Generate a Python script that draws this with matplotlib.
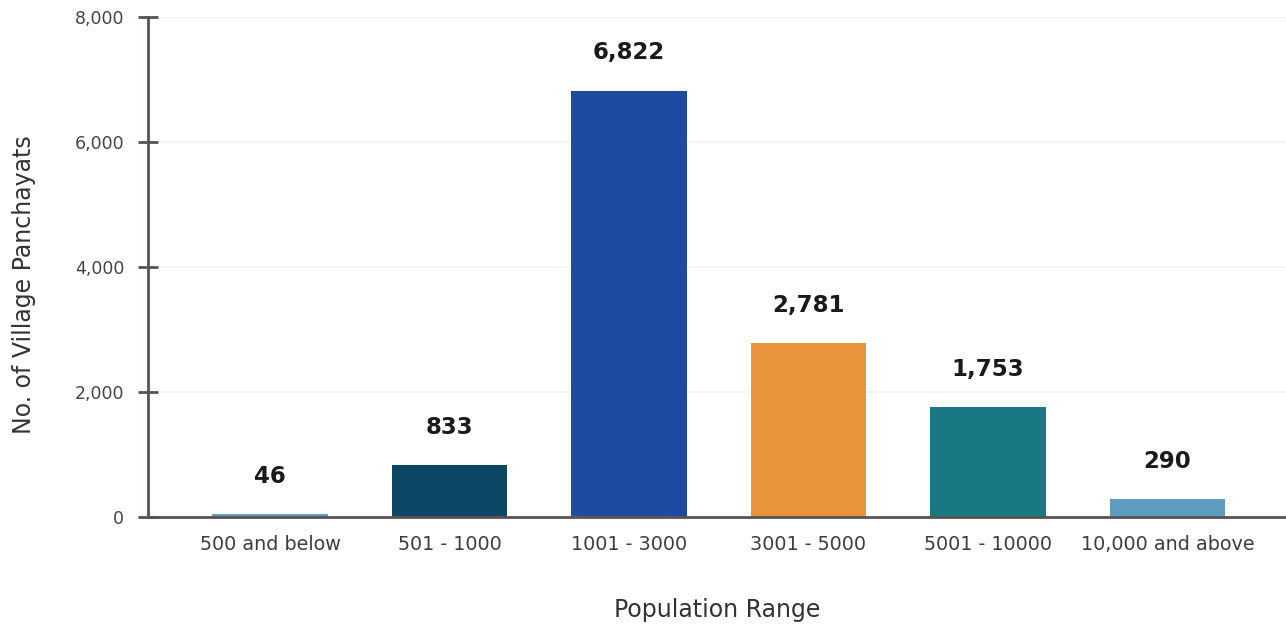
import matplotlib
matplotlib.use("Agg")
import matplotlib.pyplot as plt
from matplotlib.ticker import FuncFormatter

# data
categories = ["500 and below", "501 - 1000", "1001 - 3000", "3001 - 5000", "5001 - 10000", "10,000 and above"]
counts = [46, 833, 6822, 2781, 1753, 290]
bar_colors = ["#5f9fc2", "#0e4766", "#1e4aa1", "#e8943a", "#1a7784", "#5e9cbf"]
yticks = [0, 2000, 4000, 6000, 8000]

axis_col = "#5b5252"

fig = plt.figure(figsize=(12.86, 6.25), dpi=100)
ax = fig.add_axes([0.115, 0.173, 0.885, 0.8])

x = range(len(categories))
ax.bar(x, counts, width=0.645, color=bar_colors, zorder=3)

for i, v in enumerate(counts):
    ax.annotate(f"{v:,}", (i, v), xytext=(0, 27), textcoords="offset points",
                ha="center", va="center", fontsize=16.5, fontweight="bold",
                color="#1a1a1a", family="DejaVu Sans")

ax.set_xlim(-0.68, 5.66)
ax.set_ylim(0, 8000)
ax.set_yticks(yticks)
ax.yaxis.set_major_formatter(FuncFormatter(lambda v, p: f"{int(v):,}"))
ax.set_xticks(list(x))
ax.set_xticklabels(categories)

# faint horizontal grid
for t in yticks[1:]:
    ax.axhline(t, color="#f2f2f2", lw=1.2, zorder=0)

for s in ["top", "right"]:
    ax.spines[s].set_visible(False)
ax.spines["left"].set_color(axis_col)
ax.spines["left"].set_linewidth(2)
ax.spines["bottom"].set_color(axis_col)
ax.spines["bottom"].set_linewidth(2)
ax.spines["bottom"].set_zorder(4)

ax.tick_params(axis="y", direction="inout", length=14, width=2, color=axis_col,
               labelsize=12.5, labelcolor="#444444", pad=10)
ax.tick_params(axis="x", length=0, labelsize=13.8, labelcolor="#3d3d3d", pad=13)
for lab in ax.get_xticklabels() + ax.get_yticklabels():
    lab.set_family("DejaVu Sans")

ax.set_ylabel("No. of Village Panchayats", fontsize=17, color="#333333")
ax.yaxis.set_label_coords(-0.098, 0.464)
ax.set_xlabel("Population Range", fontsize=17, color="#333333", labelpad=32)

fig.savefig("out.png", dpi=100)
